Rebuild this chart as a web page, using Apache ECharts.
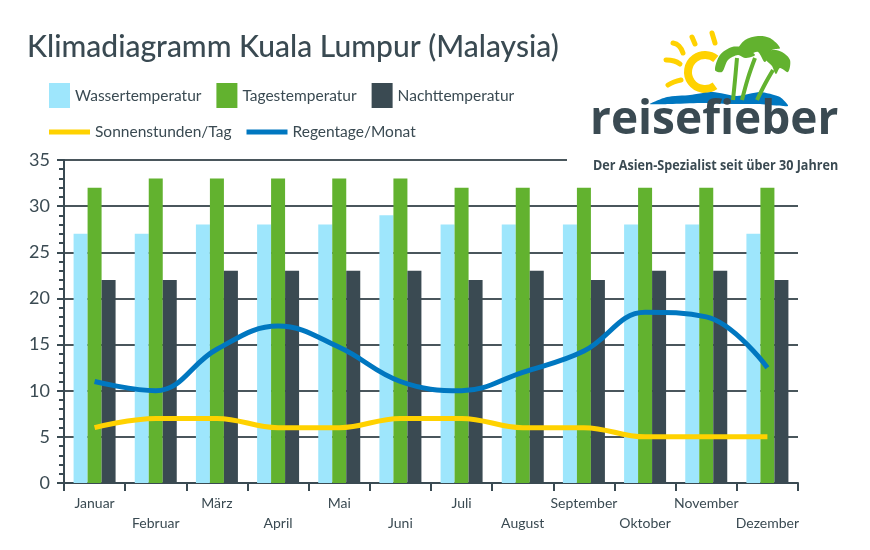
<!DOCTYPE html>
<html>
<head>
<meta charset="utf-8">
<script src="https://cdn.jsdelivr.net/npm/echarts@6/dist/echarts.min.js"></script>
<style>html,body{margin:0;padding:0;background:#fff;}#c{width:870px;height:550px;}</style>
</head>
<body>
<div id="c"></div>
<script>
const months = ['Januar','Februar','März','April','Mai','Juni','Juli','August','September','Oktober','November','Dezember'];
const wasser = [27,27,28,28,28,29,28,28,28,28,28,27];
const tages = [32,33,33,33,33,33,32,32,32,32,32,32];
const nacht = [22,22,23,23,23,23,22,23,22,23,23,22];
const sonne = [6,7,7,6,6,7,7,6,6,5,5,5];
const regen = [11,10,14.5,17,14.7,11,10,12,14.3,18.5,18,12.5];
const yTicks = [0,5,10,15,20,25,30,35];

const dark = '#3a4a52';
const chart = echarts.init(document.getElementById('c'));
const font = 'Lato';

const option = {
  animation: false,
  backgroundColor: '#fff',
  textStyle: { fontFamily: font },
  title: {
    text: 'Klimadiagramm Kuala Lumpur (Malaysia)',
    left: 22, top: 27,
    textStyle: { fontSize: 30, fontWeight: 500, color: dark, fontFamily: font }
  },
  legend: [
    {
      left: 44, top: 78, itemWidth: 21, itemHeight: 25, itemGap: 15,
      textStyle: { fontSize: 15.5, color: dark, fontFamily: font },
      data: [{name:'Wassertemperatur', icon:'rect'},{name:'Tagestemperatur', icon:'rect'},{name:'Nachttemperatur', icon:'rect'}]
    },
    {
      left: 44, top: 119, itemWidth: 41, itemHeight: 5, itemGap: 15,
      textStyle: { fontSize: 15.5, color: dark, fontFamily: font },
      data: [{name:'Sonnenstunden/Tag', icon:'rect'},{name:'Regentage/Monat', icon:'rect'}]
    }
  ],
  grid: { left: 64, right: 72, top: 160, bottom: 67, containLabel: false },
  xAxis: {
    type: 'category', data: months,
    axisLine: { lineStyle: { color: dark, width: 2 } },
    axisTick: { show: true, length: 8, lineStyle: { color: dark, width: 2 } },
    axisLabel: {
      interval: 0, margin: 10, fontSize: 14, lineHeight: 20, color: dark, fontFamily: font,
      formatter: (v, i) => (i % 2 === 1 ? '\n' + v : v)
    }
  },
  yAxis: {
    type: 'value', min: yTicks[0], max: yTicks[yTicks.length-1], interval: 5,
    axisLine: { show: true, lineStyle: { color: dark, width: 2 } },
    axisTick: { show: true, length: 7, lineStyle: { color: dark, width: 2 } },
    minorTick: { show: true, splitNumber: 5, length: 5, lineStyle: { color: dark, width: 2 } },
    splitLine: { show: true, lineStyle: { color: '#4a565c', width: 2 } },
    axisLabel: { fontSize: 18, color: dark, margin: 14, fontFamily: font }
  },
  series: [
    { name: 'Wassertemperatur', type: 'bar', data: wasser, barWidth: 14, barGap: '0%', itemStyle: { color: '#9ee6fc' } },
    { name: 'Tagestemperatur', type: 'bar', data: tages, barWidth: 14, barGap: '0%', itemStyle: { color: '#62b22f' } },
    { name: 'Nachttemperatur', type: 'bar', data: nacht, barWidth: 14, barGap: '0%', itemStyle: { color: '#3a4a52' } },
    { name: 'Sonnenstunden/Tag', type: 'line', data: sonne, smooth: 0.4, showSymbol: false, symbol: 'none',
      lineStyle: { color: '#ffd200', width: 5 }, itemStyle: { color: '#ffd200' }, z: 5 },
    { name: 'Regentage/Monat', type: 'line', data: regen, smooth: 0.4, showSymbol: false, symbol: 'none',
      lineStyle: { color: '#0077c0', width: 5 }, itemStyle: { color: '#0077c0' }, z: 6 }
  ],
  graphic: [
    { type: 'rect', z: 100, shape: { x: 567, y: 150, width: 240, height: 18 }, style: { fill: '#fff' } },
    // sun rays
    { type: 'polyline', z: 101, shape: { points: [[712,33],[715,43]] }, style: { stroke: '#ffd200', lineWidth: 5, lineCap: 'round' } },
    { type: 'polyline', z: 101, shape: { points: [[692,37],[695,44]] }, style: { stroke: '#ffd200', lineWidth: 5, lineCap: 'round' } },
    { type: 'polyline', z: 101, shape: { points: [[673,43],[679,46],[683,53]], smooth: 0.5 }, style: { stroke: '#ffd200', lineWidth: 5, lineCap: 'round' } },
    { type: 'polyline', z: 101, shape: { points: [[666,60],[674,61],[680,64]], smooth: 0.5 }, style: { stroke: '#ffd200', lineWidth: 5, lineCap: 'round' } },
    { type: 'polyline', z: 101, shape: { points: [[668,85],[674,82],[681,80]], smooth: 0.5 }, style: { stroke: '#ffd200', lineWidth: 5, lineCap: 'round' } },
    // sun crescent
    { type: 'arc', z: 101, shape: { cx: 705, cy: 72, r: 17, startAngle: Math.PI*0.30, endAngle: Math.PI*1.72, clockwise: true }, style: { stroke: '#ffd200', lineWidth: 8, fill: null } },
    // palm trunks
    { type: 'polyline', z: 102, shape: { points: [[733,100],[735,80],[737,58]], smooth: 0.4 }, style: { stroke: '#62b22f', lineWidth: 4 } },
    { type: 'polyline', z: 102, shape: { points: [[742,100],[748,78],[755,58]], smooth: 0.4 }, style: { stroke: '#62b22f', lineWidth: 4 } },
    { type: 'polyline', z: 102, shape: { points: [[757,100],[765,84],[773,70]], smooth: 0.4 }, style: { stroke: '#62b22f', lineWidth: 4 } },
    // palm fronds
    { type: 'polygon', z: 102, shape: { points: [[715,70],[720,55],[732,47],[745,48],[755,55],[745,58],[738,55],[728,60],[722,72]], smooth: 0.3 }, style: { fill: '#62b22f' } },
    { type: 'polygon', z: 102, shape: { points: [[738,50],[745,40],[758,36],[770,38],[780,48],[772,50],[765,62],[758,52],[750,54]], smooth: 0.3 }, style: { fill: '#62b22f' } },
    { type: 'polygon', z: 102, shape: { points: [[765,58],[772,50],[782,52],[790,60],[788,72],[780,68],[776,74],[772,66]], smooth: 0.3 }, style: { fill: '#62b22f' } },
    // wave
    { type: 'polygon', z: 101, shape: { points: [[650,104],[667,97],[690,95],[713,92],[737,96],[760,92],[780,97],[788,106],[760,104],[730,104],[700,103],[670,104]], smooth: 0.2 }, style: { fill: '#0077c0' } },
    // brand text
    { type: 'text', z: 103, left: 590, top: 98, style: { text: 'reisefieber', fontSize: 46, fontWeight: 'bold', fill: dark, fontFamily: 'Open Sans' } },
    { type: 'text', z: 103, x: 593, y: 158, scaleX: 0.84, style: { text: 'Der Asien-Spezialist seit über 30 Jahren', fontSize: 15, fontWeight: 'bold', fill: dark, fontFamily: 'Open Sans' } }
  ]
};
chart.setOption(option);
</script>
</body>
</html>
